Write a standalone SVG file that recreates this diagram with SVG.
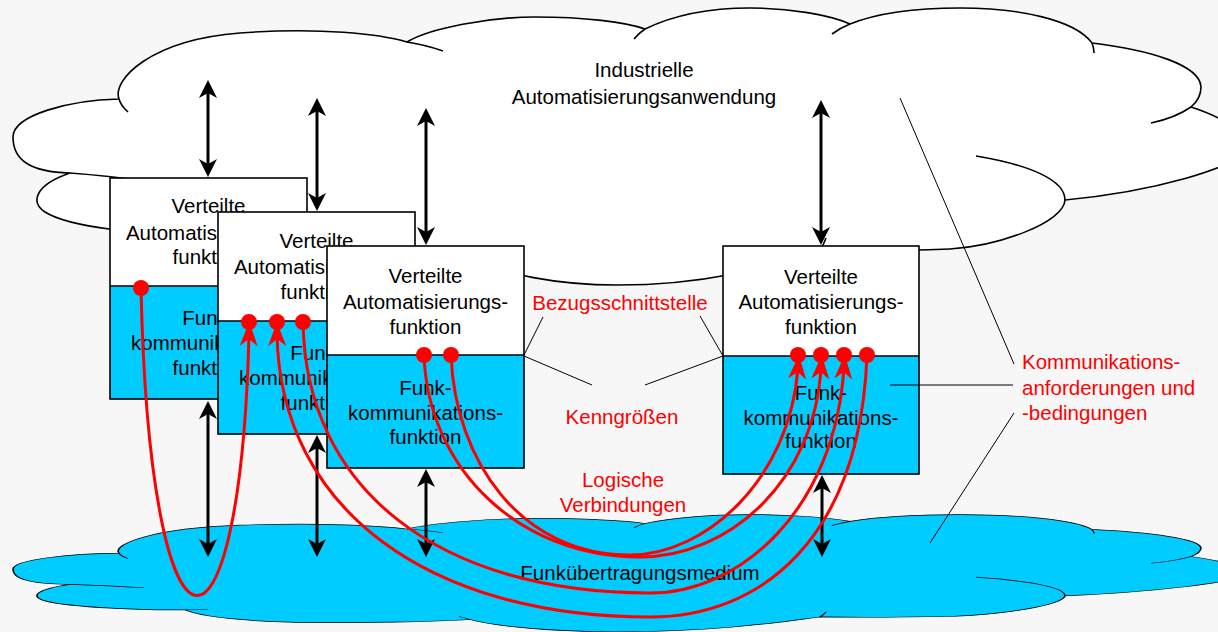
<svg xmlns="http://www.w3.org/2000/svg" xmlns:xlink="http://www.w3.org/1999/xlink" width="1218" height="632" viewBox="0 0 1218 632">
<style>
.cl{stroke:#000;stroke-width:1.6;vector-effect:non-scaling-stroke}
.tk{fill:none;stroke:#000;stroke-width:1.6;vector-effect:non-scaling-stroke}
.up{fill:#fff;stroke:none}
.lo{fill:#00CCFF;stroke:none}
.bx{fill:none;stroke:#000;stroke-width:1.6}
.dv{stroke:#000;stroke-width:1.6}
.t{font-family:"Liberation Sans",Arial,sans-serif;font-size:20.5px;fill:#000;text-anchor:middle}
.r{font-family:"Liberation Sans",Arial,sans-serif;font-size:20.5px;fill:#FF0000;text-anchor:middle}
.rl{font-family:"Liberation Sans",Arial,sans-serif;font-size:20.5px;fill:#FF0000}
.ar{fill:none;stroke:#000;stroke-width:3;marker-start:url(#bh);marker-end:url(#bh)}
.ld{fill:none;stroke:#000;stroke-width:1}
.rca{fill:none;stroke:#FF0000;stroke-width:3;marker-end:url(#rh)}
.dot{fill:#FF0000}
</style>
<defs>
<marker id="bh" viewBox="0 0 18 18" markerWidth="18" markerHeight="18" markerUnits="userSpaceOnUse" refX="8" refY="9" orient="auto-start-reverse"><path d="M0,0 L18,9 L0,18 L5,9 Z" fill="#000"/></marker>
<marker id="rh" viewBox="0 0 24 18" markerWidth="24" markerHeight="18" markerUnits="userSpaceOnUse" refX="12" refY="9" orient="auto"><path d="M0,0 L24,9 L0,18 L7,9 Z" fill="#FF0000"/></marker>
<clipPath id="clip1"><path d="M110,178 L307,178 L307,212 L218,212 L218,399 L110,399 Z"/></clipPath>
<clipPath id="clip2"><path d="M218,212 L415,212 L415,246 L327,246 L327,434 L218,434 Z"/></clipPath>
<path id="cloudShape" d="M119,99 C112,80 150,40 240,33 C320,27 380,34 407,42 C430,28 490,17 535,17 C585,17 625,22 645,29 C680,12 720,8 750,8 C790,8 830,15 850,24 C880,12 920,8 960,8 C1020,8 1075,20 1092,43 C1150,50 1200,65 1201,87 C1201,95 1197,102 1191,107 C1225,118 1250,135 1246,148 C1240,168 1150,192 1065,200 C1064,222 1000,246 950,249 C900,251 850,251 820,250 C780,262 720,285 617,285 C560,285 500,275 470,256 C430,262 360,264 311,263 C250,262 200,250 185,233 C150,235 70,228 45,212 C30,202 35,185 70,173 C30,172 13,160 13,137 C13,115 70,100 119,99 Z"/>
<path id="cloudTicks" d="M128,112 Q121,106 119,99 M407,42 Q426,45 443,51 M634,39 Q639,33 645,29 M832,34 Q840,28 850,24 M1092,43 Q1094,48 1094,53 M1191,107 Q1175,118 1151,123 M976,156 C1030,165 1065,180 1065,200 M820,250 Q824,244 826,238 M459,249 Q465,252 470,256 M185,233 Q197,233 208,233 M70,173 Q110,176 144,181"/>
</defs>
<rect width="1218" height="632" fill="#F7F7F7"/>
<g id="cloud-top">
<use xlink:href="#cloudShape" class="cl" fill="#fff"/>
<use xlink:href="#cloudTicks" class="tk"/>
<text class="t" x="644" y="77">Industrielle</text>
<text class="t" x="644" y="104">Automatisierungsanwendung</text>
</g>
<g id="cloud-bottom">
<g transform="matrix(1,0,0,0.423,0,511.2)">
<use xlink:href="#cloudShape" class="cl" fill="#00CCFF"/>
<use xlink:href="#cloudTicks" class="tk"/>
</g>
<text class="t" x="640" y="580">Funkübertragungsmedium</text>
</g>
<g id="box1">
<rect class="up" x="110" y="178" width="197" height="108"/>
<rect class="lo" x="110" y="286" width="197" height="113"/>
<line class="dv" x1="110" y1="286" x2="307" y2="286"/>
<rect class="bx" x="110" y="178" width="197" height="221"/>
<g clip-path="url(#clip1)">
<text class="t" x="208.5" y="213">Verteilte</text>
<text class="t" x="208.5" y="240">Automatisierungs-</text>
<text class="t" x="208.5" y="264">funktion</text>
<text class="t" x="208.5" y="325">Funk-</text>
<text class="t" x="208.5" y="350">kommunikations-</text>
<text class="t" x="208.5" y="375">funktion</text>
</g>
</g>
<g id="box2">
<rect class="up" x="218" y="212" width="197" height="109"/>
<rect class="lo" x="218" y="321" width="197" height="113"/>
<line class="dv" x1="218" y1="321" x2="415" y2="321"/>
<rect class="bx" x="218" y="212" width="197" height="222"/>
<g clip-path="url(#clip2)">
<text class="t" x="316.5" y="248">Verteilte</text>
<text class="t" x="316.5" y="274">Automatisierungs-</text>
<text class="t" x="316.5" y="299">funktion</text>
<text class="t" x="316.5" y="360">Funk-</text>
<text class="t" x="316.5" y="385">kommunikations-</text>
<text class="t" x="316.5" y="410">funktion</text>
</g>
</g>
<g id="box3">
<rect class="up" x="327" y="246" width="197" height="109"/>
<rect class="lo" x="327" y="355" width="197" height="113"/>
<line class="dv" x1="327" y1="355" x2="524" y2="355"/>
<rect class="bx" x="327" y="246" width="197" height="222"/>
<text class="t" x="425.5" y="283">Verteilte</text>
<text class="t" x="425.5" y="309">Automatisierungs-</text>
<text class="t" x="425.5" y="334">funktion</text>
<text class="t" x="425.5" y="395">Funk-</text>
<text class="t" x="425.5" y="420">kommunikations-</text>
<text class="t" x="425.5" y="444">funktion</text>
</g>
<g id="box4">
<rect class="up" x="723" y="246" width="196" height="110"/>
<rect class="lo" x="723" y="356" width="196" height="118"/>
<line class="dv" x1="723" y1="356" x2="919" y2="356"/>
<rect class="bx" x="723" y="246" width="196" height="228"/>
<text class="t" x="821" y="284">Verteilte</text>
<text class="t" x="821" y="309">Automatisierungs-</text>
<text class="t" x="821" y="334">funktion</text>
<text class="t" x="821" y="400">Funk-</text>
<text class="t" x="821" y="425">kommunikations-</text>
<text class="t" x="821" y="448">funktion</text>
</g>
<g id="connectors">
<path class="ar" d="M208,90 L208,167"/>
<path class="ar" d="M317,108 L317,201"/>
<path class="ar" d="M426,118 L426,235"/>
<path class="ar" d="M821,110 L821,235"/>
<path class="ar" d="M208,411 L208,547"/>
<path class="ar" d="M317,445 L317,547"/>
<path class="ar" d="M426,479 L426,547"/>
<path class="ar" d="M822,485 L822,547"/>
</g>
<g id="leaders">
<path class="ld" d="M900,98 L1014,364"/>
<path class="ld" d="M890,385 L1013,385"/>
<path class="ld" d="M1014,413 L930,543"/>
<path class="ld" d="M543,317 L524,355"/>
<path class="ld" d="M700,316 L723,356"/>
<path class="ld" d="M524,356 L592,385"/>
<path class="ld" d="M645,385 L723,356"/>
</g>
<g id="logical-links">
<path class="rca" d="M141,288 C150,690 240,690 249,334"/>
<path class="rca" d="M867,355 C860,540 760,617 650,617 C430,617 280,510 277,334"/>
<path class="rca" d="M303,321 C305,490 440,593 650,593 C740,593 835,510 844,367"/>
<path class="rca" d="M424,355 C428,470 520,557 640,557 C730,557 815,480 821,367"/>
<path class="rca" d="M451,355 C455,460 520,555 630,555 C705,555 790,480 798,367"/>
</g>
<g id="interfaces">
<circle class="dot" cx="141" cy="288" r="8"/>
<circle class="dot" cx="249" cy="322" r="8"/>
<circle class="dot" cx="277" cy="322" r="8"/>
<circle class="dot" cx="303" cy="322" r="8"/>
<circle class="dot" cx="424" cy="355" r="8"/>
<circle class="dot" cx="451" cy="355" r="8"/>
<circle class="dot" cx="798" cy="355" r="8"/>
<circle class="dot" cx="821" cy="355" r="8"/>
<circle class="dot" cx="844" cy="355" r="8"/>
<circle class="dot" cx="867" cy="355" r="8"/>
</g>
<g id="labels">
<text class="r" x="620" y="310">Bezugsschnittstelle</text>
<text class="r" x="622" y="424">Kenngrößen</text>
<text class="r" x="623" y="487">Logische</text>
<text class="r" x="623" y="512">Verbindungen</text>
<text class="rl" x="1022" y="369">Kommunikations-</text>
<text class="rl" x="1022" y="395">anforderungen und</text>
<text class="rl" x="1022" y="420">-bedingungen</text>
</g>
</svg>
